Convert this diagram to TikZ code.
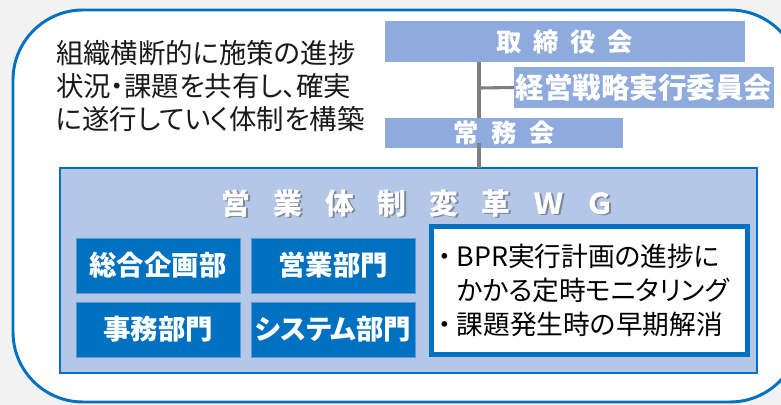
\documentclass[tikz,border=0pt]{standalone}
\usepackage{fontspec}
\setmainfont{Noto Sans CJK JP}[RawFeature=+palt]
\usetikzlibrary{positioning, calc}
\definecolor{bggray}{HTML}{F2F2F2}
\definecolor{frameblue}{HTML}{0070C0}
\definecolor{headblue}{HTML}{8FAADC}
\definecolor{wgfill}{HTML}{B4C7E7}
\definecolor{deptedge}{HTML}{5B9BD5}
\definecolor{linkgray}{HTML}{7F7F7F}
\definecolor{textblack}{HTML}{1A1A1A}
\definecolor{titleshadow}{HTML}{7C8799}
\newcommand{\shadowed}[1]{\makebox[0pt][l]{\hspace{1.3pt}\raisebox{-1.3pt}{\color{titleshadow}#1}}#1}
\newcommand{\bulletmark}{\makebox[0.72em][l]{\makebox[0.56em][c]{・}}}

\begin{document}
\begin{tikzpicture}[
                x=0.025cm, y=-0.025cm,
                every node/.style={inner sep=0pt, outer sep=0pt},
                headbox/.style={
                    fill=headblue,
                    text=white,
                    minimum height=1.025cm,
                    font=\bfseries\fontsize{18pt}{21pt}\selectfont
                },
                deptbox/.style={
                    fill=frameblue,
                    draw=deptedge,
                    line width=0.6pt,
                    text=white,
                    minimum width=4.1cm,
                    minimum height=1.375cm,
                    font=\bfseries\fontsize{19.5pt}{22pt}\selectfont
                },
                link/.style={
                    draw=linkgray,
                    line width=2.2pt
                },
                node distance=0.225cm and 0.275cm
            ]
                \useasboundingbox (0,0) rectangle (781,405);
                \fill[bggray] (0,0) rectangle (781,405);
                \draw[frameblue, line width=2.1pt, fill=white, rounded corners=1.75cm] (13,10) rectangle (800,402);

                % purpose
                \node[anchor=west, align=left, text=textblack,
                      font=\fontsize{19.5pt}{23.5pt}\selectfont] (goal) at (56,86)
                    {組織横断的に施策の進捗\\状況・課題を共有し、確実\\に遂行していく体制を構築};

                % meeting bodies
                \node[headbox, minimum width=9cm] (board) at (565,41.5)
                    {取\hspace{0.46em}締\hspace{0.46em}役\hspace{0.46em}会};
                \node[headbox, minimum width=6.5cm, font=\bfseries\fontsize{20.3pt}{22pt}\selectfont] (strategy) at (644,87.5)
                    {経営戦略実行委員会};
                \node[headbox, minimum width=5.95cm, minimum height=0.75cm] (joumu) at (504,133)
                    {常\hspace{0.5em}務\hspace{0.5em}会};

                % working group
                \node[draw=frameblue, line width=1.4pt, fill=wgfill,
                      minimum width=17.425cm, minimum height=5.125cm] (wg) at (408.5,270.5) {};
                \node[text=white, font=\bfseries\fontsize{20.5pt}{22pt}\selectfont] (wgtitle) at (417,204)
                    {\shadowed{営\hspace{0.8em}業\hspace{0.8em}体\hspace{0.8em}制\hspace{0.8em}変\hspace{0.8em}革\hspace{0.8em}Ｗ\hspace{0.8em}Ｇ}};

                \node[deptbox] (somu) at (158,265.5) {総合企画部};
                \node[deptbox, right=of somu] (eigyo) {営業部門};
                \node[deptbox, below=of somu] (jimu) {事務部門};
                \node[deptbox, right=of jimu] (system) {システム部門};

                \node[draw=frameblue, line width=3.5pt, fill=white,
                      minimum width=7.9cm, minimum height=3.2cm,
                      text width=7.6cm, align=left, text=black,
                      font=\fontsize{19pt}{24pt}\selectfont] (task) at (589.5,290.5)
                    {\bulletmark BPR実行計画の進捗に\\\hspace*{0.72em}かかる定時モニタリング\\\bulletmark 課題発生時の早期解消};

                % connectors
                \coordinate (trunk) at (479,88);
                \draw[link] (board.south -| trunk) -- (joumu.north -| trunk);
                \draw[link] (trunk) -- (strategy.west);
                \draw[link] ($(joumu.south -| trunk)+(0,-5)$) -- (wg.north -| trunk);
            \end{tikzpicture}
\end{document}
